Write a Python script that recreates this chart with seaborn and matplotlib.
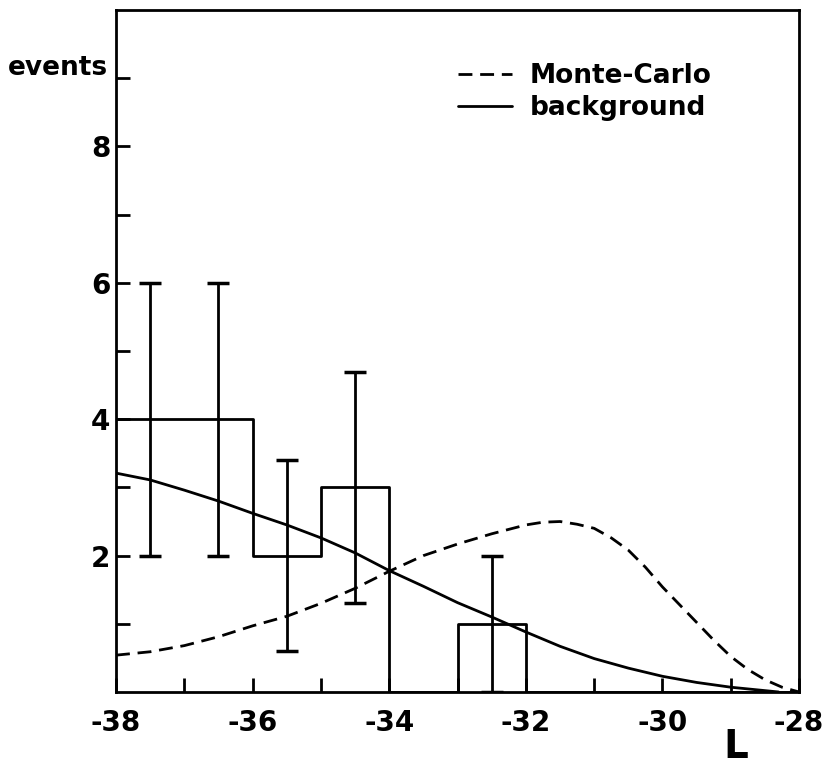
import matplotlib
matplotlib.use("Agg")
import matplotlib.pyplot as plt
import seaborn as sns
import numpy as np

# ---- data ----
bin_edges = [-38, -37, -36, -35, -34, -33, -32, -31, -30, -29, -28]
bin_counts = [4, 4, 2, 3, 0, 1, 0, 0, 0, 0]

err_x = [-37.5, -36.5, -35.5, -34.5, -32.5]
err_lo = [2.0, 2.0, 0.6, 1.3, 0.0]
err_hi = [6.0, 6.0, 3.4, 4.7, 2.0]

bg_x = [-38, -37.5, -37, -36.5, -36, -35.5, -35, -34.5, -34, -33.5, -33,
        -32.5, -32, -31.5, -31, -30.5, -30, -29.5, -29, -28.5, -28.3]
bg_y = [3.21, 3.11, 2.96, 2.80, 2.62, 2.45, 2.26, 2.04, 1.78, 1.55, 1.31,
        1.10, 0.88, 0.67, 0.49, 0.35, 0.23, 0.14, 0.07, 0.02, 0.0]

mc_x = [-38, -37.5, -37, -36.5, -36, -35.5, -35, -34.5, -34, -33.5, -33,
        -32.5, -32, -31.75, -31.5, -31.25, -31, -30.75, -30.5, -30.25, -30,
        -29.75, -29.5, -29.25, -29, -28.75, -28.5, -28.25, -28]
mc_y = [0.54, 0.59, 0.68, 0.81, 0.97, 1.11, 1.30, 1.52, 1.77, 2.00, 2.17,
        2.32, 2.45, 2.49, 2.50, 2.46, 2.40, 2.26, 2.08, 1.83, 1.54,
        1.28, 1.02, 0.76, 0.52, 0.33, 0.18, 0.07, 0.0]

x_major = [-38, -36, -34, -32, -30, -28]
x_labels = ["-38", "-36", "-34", "-32", "-30", "-28"]
x_minor = [-37, -35, -33, -31, -29]
y_major = [2, 4, 6, 8]
y_labels = ["2", "4", "6", "8"]
y_minor = [1, 3, 5, 7, 9]

# ---- style ----
sns.set_style("ticks")
plt.rcParams['font.family'] = ['DejaVu Sans']
plt.rcParams['font.weight'] = 'bold'
plt.rcParams['axes.unicode_minus'] = False
for k in ['text.color', 'xtick.color', 'ytick.color', 'axes.labelcolor',
          'axes.edgecolor']:
    plt.rcParams[k] = 'black'

fig = plt.figure(figsize=(8.24, 7.67), dpi=100)
ax = fig.add_axes([0.1408, 0.0978, 0.829, 0.889])

centers = [(a + b) / 2 for a, b in zip(bin_edges[:-1], bin_edges[1:])]
sns.histplot(x=centers, weights=bin_counts, bins=bin_edges, element="step",
             fill=False, color="black", linewidth=2, ax=ax)

sns.lineplot(x=mc_x, y=mc_y, color="black", linewidth=2,
             linestyle=(0, (5, 2.8)), label="Monte-Carlo", ax=ax)
sns.lineplot(x=bg_x, y=bg_y, color="black", linewidth=2,
             label="background", ax=ax)

lo = np.array(err_lo)
hi = np.array(err_hi)
mid = (hi + lo) / 2
ax.errorbar(err_x, mid, yerr=[mid - lo, hi - mid], fmt="none", ecolor="black",
            elinewidth=2, capsize=8, capthick=2.5)

ax.set_xlim(-38, -28)
ax.set_ylim(0, 10)
ax.set_xlabel("")
ax.set_ylabel("")

ax.set_xticks(x_major)
ax.set_xticklabels(x_labels)
ax.set_xticks(x_minor, minor=True)
ax.set_yticks(y_major)
ax.set_yticklabels(y_labels)
ax.set_yticks(y_minor, minor=True)

ax.tick_params(axis="both", which="both", direction="in", width=2,
               length=10, colors="black")
ax.tick_params(axis="x", which="major", labelsize=20, pad=12)
ax.tick_params(axis="y", which="major", labelsize=20, pad=4)
for lab in ax.get_xticklabels() + ax.get_yticklabels():
    lab.set_fontweight("bold")

for sp in ax.spines.values():
    sp.set_linewidth(2)
    sp.set_color("black")

ax.text(-0.012, 9.05, "events", transform=ax.get_yaxis_transform(), ha="right",
        va="baseline", fontsize=19, fontweight="bold")
ax.text(0.908, -0.081, "L", transform=ax.transAxes, ha="center",
        va="center", fontsize=28, fontweight="bold")

leg = ax.legend(loc="upper left", bbox_to_anchor=(0.5, 0.922), frameon=False,
                fontsize=19, handlelength=2.05, handletextpad=0.68,
                labelspacing=0.22, borderpad=0, borderaxespad=0)
for t in leg.get_texts():
    t.set_fontweight("bold")

fig.savefig("out.png", dpi=100, facecolor="white")
